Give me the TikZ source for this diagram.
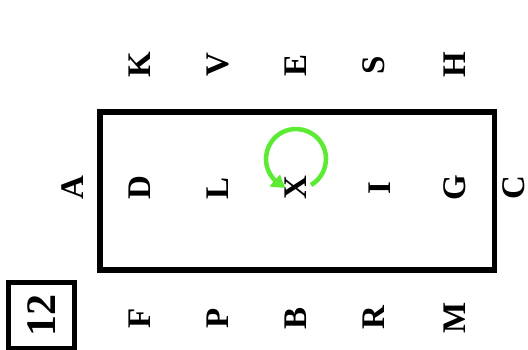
\documentclass[tikz,border=0pt]{standalone}
\usepackage{fontspec}
\setmainfont{Liberation Serif}
\usetikzlibrary{arrows.meta,bending}
\definecolor{loopgreen}{RGB}{90,235,50}
\begin{document}
\begin{tikzpicture}[x=1pt,y=-1pt,
  lett/.style={font=\fontsize{33}{33}\selectfont\bfseries, rotate=90, inner sep=0pt},
  numlab/.style={font=\fontsize{42}{42}\selectfont\bfseries, rotate=90, draw, line width=5pt, inner sep=0pt, minimum width=66pt, minimum height=66pt}]
\useasboundingbox (0,0) rectangle (528,350);
\draw[line width=5.5pt] (100,112) rectangle (494.5,270);
% top row
\node[lett] (K) at (140,65) {K};
\node[lett] (V) at (218,65) {V};
\node[lett] (E) at (296,65) {E};
\node[lett] (S) at (374,65) {S};
\node[lett] (H) at (455,65) {H};
% middle row
\node[lett] (A) at (73,188) {A};
\node[lett] (D) at (140,188) {D};
\node[lett] (L) at (218,188) {L};
\node[lett] (X) at (296,188) {X};
\node[lett] (I) at (380,188) {I};
\node[lett] (G) at (455,188) {G};
\node[lett] (C) at (514,188) {C};
% bottom row
\node[lett] (F) at (140,318) {F};
\node[lett] (P) at (218,318) {P};
\node[lett] (B) at (296,318) {B};
\node[lett] (R) at (374,318) {R};
\node[lett] (M) at (455,318) {M};
% label
\node[numlab] (num) at (41.5,315) {12};
% loop
\coordinate (lc) at (296,159);
\draw[loopgreen, line width=4.5pt, -{Triangle[length=13pt,width=15pt,bend]}]
  ([shift={(60:30)}]lc) arc[start angle=60, end angle=-250, radius=30];
\end{tikzpicture}
\end{document}
